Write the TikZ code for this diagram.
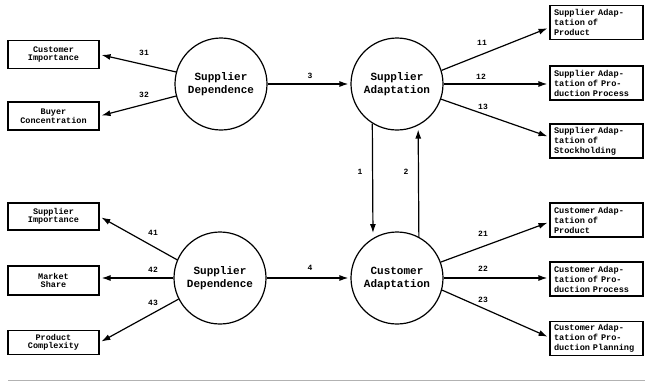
\documentclass[tikz,border=0pt]{standalone}
\usepackage{fontspec}
\setmonofont{Liberation Mono}
\usetikzlibrary{arrows.meta,calc}
\begin{document}
\begin{tikzpicture}[x=1pt,y=-1pt,
  lbox/.style={draw, line width=1.2pt, minimum width=91pt, align=center, inner sep=1pt,
    font=\ttfamily\bfseries\fontsize{8.5}{8.5}\selectfont},
  rbox/.style={draw, line width=1.2pt, minimum width=93pt, text width=85pt, inner xsep=4pt,
    inner ysep=2pt, minimum height=34pt, align=left,
    font=\ttfamily\bfseries\fontsize{8.6}{10}\selectfont},
  circ/.style={draw, circle, line width=1.2pt, minimum size=92pt, inner sep=0pt, align=center,
    font=\ttfamily\bfseries\fontsize{11}{13}\selectfont},
  arr/.style={line width=1.2pt, -{Latex[length=9pt,width=6pt]}, shorten >=2pt},
  num/.style={font=\ttfamily\bfseries\fontsize{8}{8}\selectfont, inner sep=0pt}]
\useasboundingbox (0,0) rectangle (645,381);

% circles
\node[circ] (SD1) at (221,84) {Supplier\\Dependence};
\node[circ] (SA)  at (397,84) {Supplier\\Adaptation};
\node[circ] (SD2) at (220,278) {Supplier\\Dependence};
\node[circ] (CA)  at (397,278) {Customer\\Adaptation};

% left boxes
\node[lbox, minimum height=28pt] (CI) at (53.5,54.5) {Customer\\Importance};
\node[lbox, minimum height=28pt] (BC) at (53.5,116) {Buyer\\Concentration};
\node[lbox, minimum height=27pt] (SI) at (53.5,216.5) {Supplier\\Importance};
\node[lbox, minimum height=29pt] (MS) at (53.5,280.5) {Market\\Share};
\node[lbox, minimum height=24pt] (PC) at (53.5,342.5) {Product\\Complexity};

% right boxes
\node[rbox] (SAP)  at (596.5,22.5) {Supplier Adap-\\tation of\\Product};
\node[rbox] (SAPP) at (596.5,83)   {Supplier Adap-\\tation of Pro-\\duction Process};
\node[rbox] (SAS)  at (596.5,141)  {Supplier Adap-\\tation of\\Stockholding};
\node[rbox] (CAP)  at (596.5,220)  {Customer Adap-\\tation of\\Product};
\node[rbox] (CAPP) at (596.5,279)  {Customer Adap-\\tation of Pro-\\duction Process};
\node[rbox] (CAPL) at (596.5,338.5){Customer Adap-\\tation of Pro-\\duction Planning};

% arrows top
\draw[arr] (SD1.165) -- (CI.east);
\draw[arr] (SD1.195) -- (BC.east);
\draw[arr] (SD1.east) -- (SA.west);
\draw[arr] (SA.17) -- ($(SAP.west)+(0,5)$);
\draw[arr] (SA.east) -- (SAPP.west |- SA.east);
\draw[arr] (SA.-19) -- ($(SAS.west)+(0,-4)$);
% vertical
\draw[arr, shorten >=5pt] (SA.238.5) -- (CA.121.5);
\draw[arr, shorten >=4pt] (CA.62.8) -- (SA.297.2);
% arrows bottom
\draw[arr] (SD2.157) -- (SI.east);
\draw[arr] (SD2.west) -- (MS.east |- SD2.west);
\draw[arr] (SD2.207) -- (PC.east);
\draw[arr] (SD2.east) -- (CA.west);
\draw[arr] (CA.20) -- ($(CAP.west)+(0,2)$);
\draw[arr] (CA.east) -- (CAPP.west |- CA.east);
\draw[arr] (CA.-15) -- ($(CAPL.west)+(0,-1)$);

% labels
\node[num] (l31) at (144,53) {31};
\node[num] (l32) at (144,95) {32};
\node[num] (l3)  at (310,76) {3};
\node[num] (l11) at (482,43) {11};
\node[num] (l12) at (481,77) {12};
\node[num] (l13) at (483,107) {13};
\node[num] (l1)  at (360,172) {1};
\node[num] (l2)  at (406,172) {2};
\node[num] (l41) at (153,233) {41};
\node[num] (l42) at (153,270) {42};
\node[num] (l43) at (153,303) {43};
\node[num] (l4)  at (310,268) {4};
\node[num] (l21) at (483,234) {21};
\node[num] (l22) at (483,269) {22};
\node[num] (l23) at (483,300) {23};

% bottom rule
\draw[gray!60, line width=1pt] (8,380) -- (645,380);
\end{tikzpicture}
\end{document}
